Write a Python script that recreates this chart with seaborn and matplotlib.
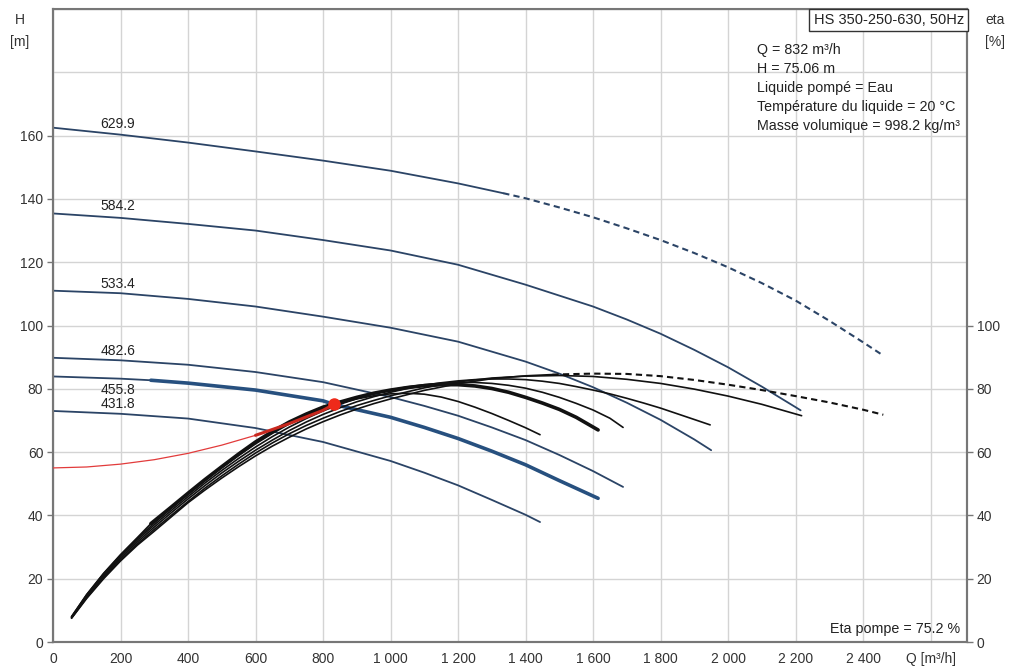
import numpy as np
import pandas as pd
import seaborn as sns
import matplotlib
matplotlib.use("Agg")
import matplotlib.pyplot as plt

sns.set_style("white")
plt.rcParams['font.family'] = ['Liberation Sans', 'DejaVu Sans']

# ---------------- data ----------------
diam_labels = ["629.9", "584.2", "533.4", "482.6", "455.8", "431.8"]
label_h = [163.7, 137.9, 113.2, 92.1, 79.7, 75.3]

# Head curves H [m] vs Q [m3/h]
q_6299 = [0, 200, 400, 600, 800, 1000, 1200, 1334]
h_6299 = [162.5, 160.3, 157.8, 155.0, 152.1, 148.9, 144.9, 141.8]
q_6299_ext = [1334, 1400, 1500, 1600, 1700, 1800, 1900, 2000, 2100, 2200, 2300, 2400, 2460]
h_6299_ext = [141.8, 140.2, 137.3, 134.2, 130.7, 127.0, 122.9, 118.4, 113.4, 107.9, 101.5, 94.7, 90.5]

q_5842 = [0, 200, 400, 600, 800, 1000, 1200, 1400, 1600, 1700, 1800, 1900, 2000, 2100, 2200, 2215]
h_5842 = [135.4, 134.0, 132.1, 130.0, 127.0, 123.7, 119.2, 112.9, 106.0, 101.9, 97.4, 92.3, 86.8, 80.7, 74.2, 73.2]

q_5334 = [0, 200, 400, 600, 800, 1000, 1200, 1400, 1500, 1600, 1700, 1800, 1900, 1950]
h_5334 = [111.0, 110.2, 108.4, 106.0, 102.8, 99.3, 94.9, 88.6, 84.8, 80.5, 75.6, 70.2, 64.0, 60.6]

q_4826 = [0, 200, 400, 600, 800, 1000, 1100, 1200, 1300, 1400, 1500, 1600, 1689]
h_4826 = [89.8, 89.0, 87.6, 85.3, 82.1, 77.4, 74.6, 71.5, 67.8, 63.8, 59.1, 54.0, 49.0]

q_4558 = [0, 200, 290, 400, 600, 800, 832, 1000, 1100, 1200, 1300, 1400, 1500, 1615]
h_4558 = [83.9, 83.2, 82.7, 81.8, 79.6, 76.2, 75.06, 71.0, 67.8, 64.3, 60.3, 56.0, 51.0, 45.4]

q_4318 = [0, 200, 400, 600, 800, 1000, 1100, 1200, 1300, 1400, 1443]
h_4318 = [73.0, 72.1, 70.6, 67.6, 63.2, 57.2, 53.5, 49.5, 44.9, 40.2, 37.9]

# Efficiency curves eta [%] vs Q [m3/h]
qe_4318 = [55, 100, 150, 200, 250, 300, 350, 400, 450, 500, 550, 600, 650, 700, 750, 800,
           850, 900, 950, 1000, 1050, 1100, 1150, 1200, 1250, 1300, 1350, 1400, 1443]
eta_4318 = [8.0, 15.0, 21.6, 27.4, 32.7, 37.6, 42.2, 46.6, 50.9, 55.0, 58.9, 62.6, 65.9, 68.9,
            71.5, 73.6, 75.4, 76.8, 77.8, 78.4, 78.6, 78.3, 77.4, 76.0, 74.2, 72.2, 70.0, 67.7, 65.5]

qe_4558 = [55, 100, 150, 200, 250, 290, 350, 400, 450, 500, 550, 600, 650, 700, 750, 800, 832,
           850, 900, 950, 1000, 1050, 1100, 1150, 1200, 1250, 1300, 1350, 1400, 1450, 1500, 1550, 1615]
eta_4558 = [8.0, 15.0, 21.7, 27.6, 33.0, 37.4, 42.6, 47.0, 51.3, 55.4, 59.4, 63.2, 66.5, 69.5,
            72.0, 74.2, 75.2, 75.8, 77.3, 78.6, 79.6, 80.4, 81.0, 81.3, 81.3, 80.9, 80.1, 78.9,
            77.3, 75.5, 73.5, 71.0, 67.0]

qe_4826 = [55, 100, 150, 200, 250, 300, 350, 400, 450, 500, 550, 600, 650, 700, 750, 800, 850,
           900, 950, 1000, 1050, 1100, 1150, 1200, 1250, 1300, 1350, 1400, 1450, 1500, 1550,
           1600, 1650, 1689]
eta_4826 = [7.8, 14.6, 21.1, 26.9, 32.2, 37.0, 41.5, 45.9, 50.2, 54.2, 58.0, 61.6, 64.9, 67.9,
            70.6, 73.0, 75.1, 76.9, 78.4, 79.6, 80.6, 81.3, 81.8, 82.0, 82.0, 81.7, 81.1, 80.2,
            78.9, 77.3, 75.4, 73.3, 70.7, 67.8]

qe_5334 = [55, 100, 150, 200, 250, 300, 350, 400, 450, 500, 550, 600, 650, 700, 750, 800, 850,
           900, 950, 1000, 1050, 1100, 1150, 1200, 1250, 1300, 1350, 1400, 1450, 1500, 1550,
           1600, 1650, 1700, 1750, 1800, 1850, 1900, 1947]
eta_5334 = [7.7, 14.3, 20.7, 26.4, 31.6, 36.3, 40.8, 45.2, 49.4, 53.4, 57.1, 60.6, 63.8, 66.8,
            69.5, 71.9, 74.0, 75.9, 77.5, 78.9, 80.1, 81.1, 81.9, 82.5, 82.9, 83.1, 83.1, 82.9,
            82.4, 81.7, 80.7, 79.6, 78.4, 77.0, 75.5, 73.9, 72.1, 70.3, 68.6]

qe_5842 = [55, 100, 150, 200, 250, 300, 350, 400, 450, 500, 550, 600, 650, 700, 750, 800, 850,
           900, 950, 1000, 1100, 1200, 1300, 1400, 1500, 1600, 1700, 1800, 1900, 2000, 2100, 2218]
eta_5842 = [7.6, 14.0, 20.3, 25.9, 31.0, 35.6, 40.0, 44.4, 48.6, 52.5, 56.2, 59.7, 62.9, 65.8,
            68.4, 70.7, 72.8, 74.7, 76.3, 77.8, 80.3, 82.2, 83.4, 84.0, 84.2, 83.9, 83.0, 81.7,
            79.9, 77.7, 75.1, 71.5]

qe_6299 = [55, 100, 150, 200, 250, 300, 350, 400, 450, 500, 550, 600, 650, 700, 750, 800, 850,
           900, 950, 1000, 1100, 1200, 1300, 1400, 1480]
eta_6299 = [7.5, 13.8, 20.0, 25.6, 30.6, 35.0, 39.5, 44.0, 48.0, 51.8, 55.4, 58.8, 61.9, 64.7,
            67.3, 69.6, 71.7, 73.6, 75.3, 76.8, 79.5, 81.6, 83.2, 84.1, 84.5]
qe_6299_ext = [1480, 1600, 1700, 1800, 1900, 2000, 2100, 2200, 2300, 2400, 2460]
eta_6299_ext = [84.5, 84.8, 84.7, 84.0, 82.8, 81.3, 79.6, 77.7, 75.7, 73.4, 71.8]

# System curve
q_sys = [0, 100, 200, 300, 400, 500, 600]
h_sys = [55.0, 55.3, 56.2, 57.6, 59.6, 62.2, 65.3]
q_sys_hi = [600, 700, 800, 832]
h_sys_hi = [65.3, 69.0, 73.2, 75.06]

q_op, h_op = 832, 75.06

x_ticks = [0, 200, 400, 600, 800, 1000, 1200, 1400, 1600, 1800, 2000, 2200, 2400, 2600]
x_ticklabels = ["0", "200", "400", "600", "800", "1 000", "1 200", "1 400", "1 600",
                "1 800", "2 000", "2 200", "2 400", "Q [m³/h]"]
y_ticks = [0, 20, 40, 60, 80, 100, 120, 140, 160]
eta_ticks = [0, 20, 40, 60, 80, 100]

info_lines = ["Q = 832 m³/h", "H = 75.06 m", "Liquide pompé = Eau",
              "Température du liquide = 20 °C", "Masse volumique = 998.2 kg/m³"]

# ---------------- drawing ----------------
W, H = 1012, 669
fig = plt.figure(figsize=(W / 100, H / 100), dpi=100)
ax = fig.add_axes([53 / W, 1 - 642 / H, (967 - 53) / W, (642 - 9) / H])
ax2 = ax.twinx()

HCOL = "#2b4466"
ECOL = "#111111"


def line(a, q, v, color, lw, ls="-", z=2):
    df = pd.DataFrame({"Q": q, "V": v})
    sns.lineplot(data=df, x="Q", y="V", ax=a, color=color, linewidth=lw,
                 linestyle=ls, sort=False, estimator=None, zorder=z)


# head curves
line(ax, q_6299, h_6299, HCOL, 1.3)
line(ax, q_6299_ext, h_6299_ext, HCOL, 1.5, (0, (3, 2)))
line(ax, q_5842, h_5842, HCOL, 1.3)
line(ax, q_5334, h_5334, HCOL, 1.3)
line(ax, q_4826, h_4826, HCOL, 1.3)
line(ax, q_4558[:3], h_4558[:3], HCOL, 1.3)
line(ax, q_4558[2:], h_4558[2:], "#27507f", 2.6)
line(ax, q_4318, h_4318, HCOL, 1.3)

# efficiency curves
line(ax2, qe_4318, eta_4318, ECOL, 1.2)
line(ax2, qe_4826, eta_4826, ECOL, 1.2)
line(ax2, qe_5334, eta_5334, ECOL, 1.2)
line(ax2, qe_5842, eta_5842, ECOL, 1.2)
line(ax2, qe_6299, eta_6299, ECOL, 1.2)
line(ax2, qe_6299_ext, eta_6299_ext, ECOL, 1.5, (0, (3, 2)))
line(ax2, qe_4558[:6], eta_4558[:6], ECOL, 1.2)
line(ax2, qe_4558[5:], eta_4558[5:], ECOL, 2.6, z=3)

# system curve + operating point
line(ax2, q_sys, h_sys, "#e23b3b", 0.9, z=4)
line(ax2, q_sys_hi, h_sys_hi, "#c8281e", 2.2, z=4)
ax2.plot([q_op], [h_op], "o", color="#ee2a1a", markersize=8, zorder=6)

# diameter labels
for lab, yv in zip(diam_labels, label_h):
    ax.text(140, yv, lab, fontsize=10, color="#222222", va="center", ha="left", zorder=5)

# axes styling
for a in (ax, ax2):
    a.set_xlim(0, 2708)
    a.set_ylim(0, 200)
    a.set_xlabel("")
    a.set_ylabel("")
ax.set_xticks(x_ticks)
ax.set_xticklabels(x_ticklabels)
ax.set_yticks(y_ticks)
ax.set_yticks([180], minor=True)
ax2.set_yticks(eta_ticks)
ax.grid(True, which="both", color="#d4d4d4", linewidth=1.0)
ax.set_axisbelow(True)
ax.tick_params(axis="both", which="major", labelsize=10, labelcolor="#333333",
               length=4, width=1, color="#777777", direction="out", pad=3)
ax.tick_params(axis="y", which="minor", length=0)
ax2.tick_params(axis="y", labelsize=10, labelcolor="#333333", length=4, width=1,
                color="#777777", direction="out", pad=3)
for a in (ax, ax2):
    for s in a.spines.values():
        s.set_color("#777777")
        s.set_linewidth(1.5)
ax.spines["top"].set_color("#aaaaaa")
ax.spines["top"].set_linewidth(1.0)

# axis titles
fig.text(20 / W, 1 - 20 / H, "H", fontsize=10, ha="center", va="center", color="#333333")
fig.text(20 / W, 1 - 42 / H, "[m]", fontsize=10, ha="center", va="center", color="#333333")
fig.text(995 / W, 1 - 20 / H, "eta", fontsize=10, ha="center", va="center", color="#333333")
fig.text(995 / W, 1 - 42 / H, "[%]", fontsize=10, ha="center", va="center", color="#333333")

# title box
fig.text(889 / W, 1 - 20 / H, "HS 350-250-630, 50Hz", fontsize=10.5, ha="center", va="center",
         color="#222222",
         bbox=dict(boxstyle="square,pad=0.3", facecolor="white", edgecolor="#333333", linewidth=1.0))

for i, t in enumerate(info_lines):
    fig.text(757 / W, 1 - (50 + 19 * i) / H, t, fontsize=10.3, ha="left", va="center", color="#222222")

fig.text(960 / W, 1 - 629 / H, "Eta pompe = 75.2 %", fontsize=10.3, ha="right", va="center",
         color="#222222")

fig.savefig("out.png", dpi=100)
